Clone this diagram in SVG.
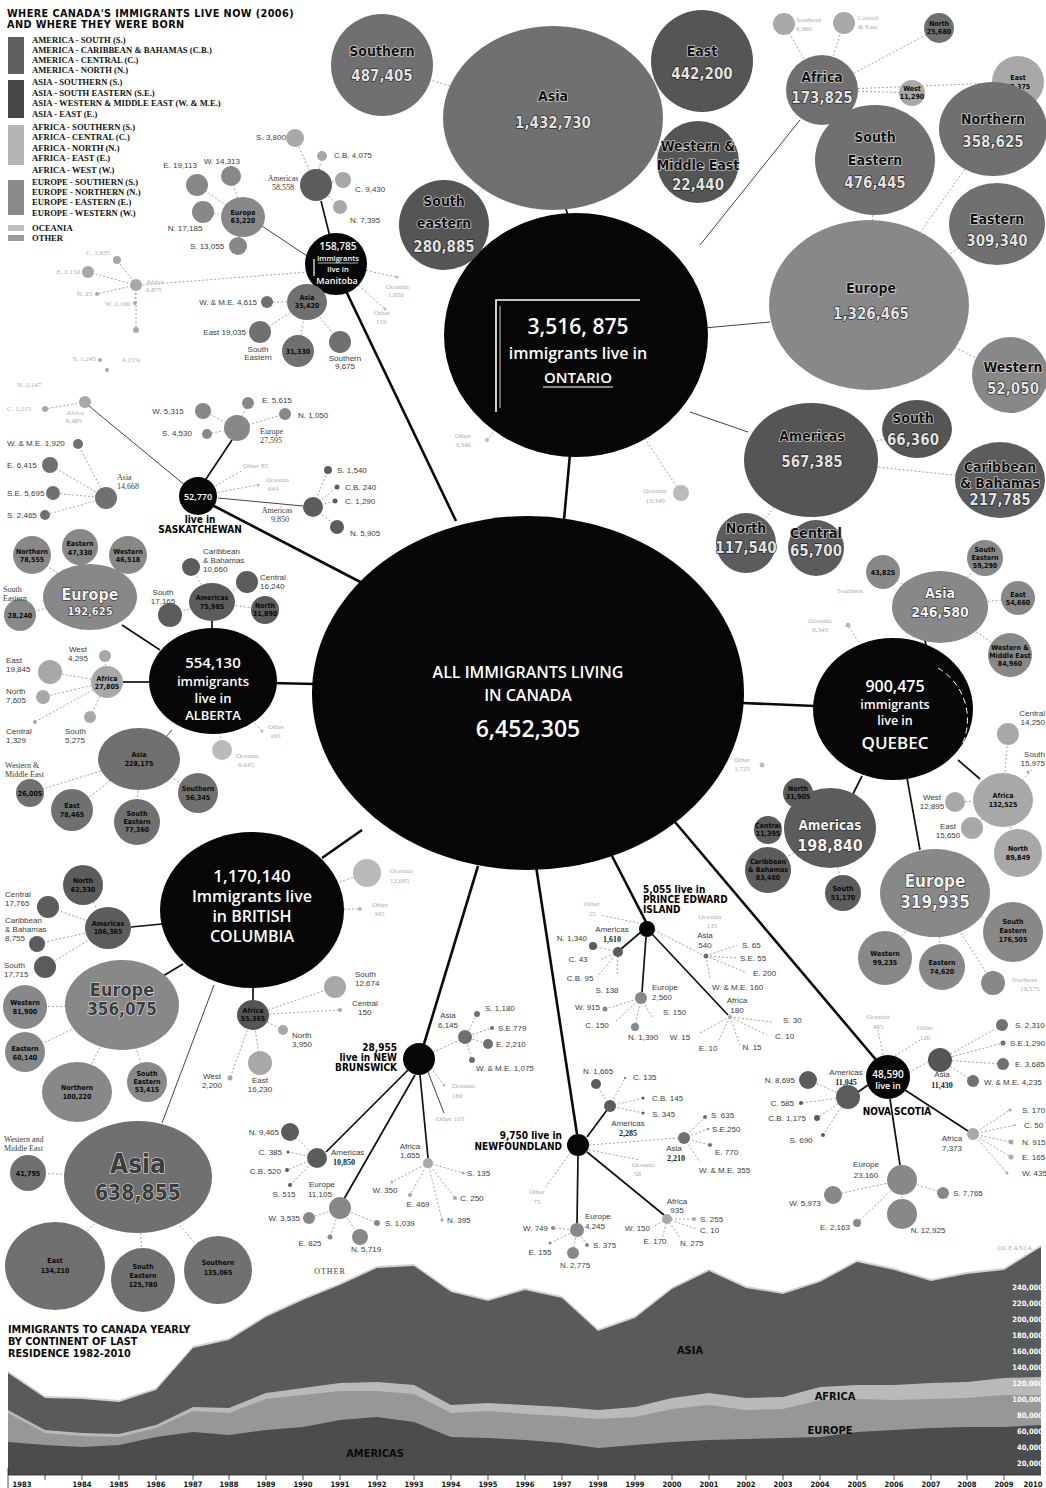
<svg xmlns="http://www.w3.org/2000/svg" width="1046" height="1488" viewBox="0 0 1046 1488">
<style>
text{font-family:"Liberation Sans",Arial,sans-serif}
.pv{fill:#060606}
.am{fill:#5c5c5c}
.as{fill:#707070}
.af{fill:#a8a8a8}
.eu{fill:#888888}
.oc{fill:#bababa}
.dk{fill:#555555}
.k{stroke:#0a0a0a;stroke-width:2.6;fill:none}
.k2{stroke:#111;stroke-width:1.7;fill:none}
.t{stroke:#444;stroke-width:1;fill:none}
.d{stroke:#8c8c8c;stroke-width:0.8;stroke-dasharray:2 2;fill:none}
.w{fill:#fff;font-family:"Open Sans","Liberation Sans",sans-serif;font-weight:600;text-anchor:middle}
.tt{font-family:"DejaVu Sans Condensed","Liberation Sans Narrow","Liberation Sans",sans-serif;font-stretch:condensed;font-weight:900;font-size:10.8px;fill:#0a0a0a}
.lg{font-family:"Liberation Serif",serif;font-weight:bold;font-size:8.6px;fill:#111}
.ol{font-family:"DejaVu Sans Condensed","Liberation Sans Narrow","Liberation Sans",sans-serif;font-stretch:condensed;font-weight:bold;font-size:14px;text-anchor:middle;fill:#111;stroke:#e6e6e6;stroke-width:1.2px;paint-order:stroke}
.on{font-family:"DejaVu Sans Condensed","Liberation Sans Narrow","Liberation Sans",sans-serif;font-stretch:condensed;font-weight:bold;font-size:15px;text-anchor:middle;fill:#e2e2e2;stroke:#111;stroke-width:1.2px;paint-order:stroke}
.bw{font-family:"DejaVu Sans Condensed","Liberation Sans Narrow","Liberation Sans",sans-serif;font-stretch:condensed;font-weight:bold;text-anchor:middle;fill:#f2f2f2;stroke:#1a1a1a;stroke-width:1.1px;paint-order:stroke}
.bg{font-family:"DejaVu Sans Condensed","Liberation Sans Narrow","Liberation Sans",sans-serif;font-stretch:condensed;font-weight:bold;text-anchor:middle;fill:#3c3c3c;stroke:#e8e8e8;stroke-width:1.1px;paint-order:stroke}
.n{font-family:"DejaVu Sans Condensed","Liberation Sans Narrow","Liberation Sans",sans-serif;font-stretch:condensed;font-weight:bold;font-size:7px;text-anchor:middle;fill:#0a0a0a}
.p{font-family:"DejaVu Sans Condensed","Liberation Sans Narrow","Liberation Sans",sans-serif;font-stretch:condensed;font-weight:bold;font-size:10px;fill:#000}
.s{font-family:"Liberation Serif",serif;font-size:8px;fill:#3c3c3c}
.sb{font-family:"Liberation Serif",serif;font-size:8px;font-weight:bold;fill:#222}
.f{font-family:"Liberation Serif",serif;font-size:7px;fill:#ababab}
.m{text-anchor:middle}
.e{text-anchor:end}
.ax{font-family:"DejaVu Sans Condensed","Liberation Sans Narrow","Liberation Sans",sans-serif;font-stretch:condensed;font-weight:bold;font-size:7.5px;fill:#fff;text-anchor:end}
.yr{font-family:"DejaVu Sans Condensed","Liberation Sans Narrow","Liberation Sans",sans-serif;font-stretch:condensed;font-weight:bold;font-size:7.5px;fill:#111;text-anchor:middle}
.cl{font-family:"DejaVu Sans Condensed","Liberation Sans Narrow","Liberation Sans",sans-serif;font-stretch:condensed;font-weight:bold;font-size:11px;fill:#0a0a0a;text-anchor:middle}
</style>
<rect x="0" y="0" width="1046" height="1488" fill="#fff"/>

<g id="chart">
<path fill="#d0d0d0" d="M8,1475 L8,1371 L45,1396 L82,1397 L119,1400 L156,1388 L193,1346 L229,1338 L266,1315 L303,1298 L340,1283 L377,1266 L414,1264 L451,1290 L488,1299 L525,1288 L562,1296 L598,1329 L635,1316 L672,1287 L709,1269 L746,1286 L783,1292 L820,1280 L857,1260 L894,1268 L931,1279 L967,1272 L1004,1268 L1041,1245 L1041,1475 Z"/>
<path fill="#5a5a5a" d="M8,1475 L8,1373 L45,1398 L82,1399 L119,1402 L156,1390 L193,1348 L229,1340 L266,1317 L303,1300 L340,1285 L377,1268 L414,1266 L451,1292 L488,1301 L525,1290 L562,1298 L598,1331 L635,1318 L672,1289 L709,1271 L746,1288 L783,1294 L820,1282 L857,1262 L894,1270 L931,1281 L967,1274 L1004,1270 L1041,1247 L1041,1475 Z"/>
<path fill="#b9b9b9" d="M8,1475 L8,1410 L45,1430 L82,1433 L119,1434 L156,1425 L193,1407 L229,1408 L266,1393 L303,1388 L340,1383 L377,1382 L414,1385 L451,1405 L488,1403 L525,1405 L562,1407 L598,1410 L635,1407 L672,1398 L709,1393 L746,1398 L783,1397 L820,1387 L857,1385 L894,1385 L931,1383 L967,1382 L1004,1378 L1041,1377 L1041,1475 Z"/>
<path fill="#979797" d="M8,1475 L8,1413 L45,1433 L82,1436 L119,1437 L156,1428 L193,1411 L229,1413 L266,1399 L303,1395 L340,1391 L377,1391 L414,1394 L451,1413 L488,1411 L525,1414 L562,1416 L598,1419 L635,1417 L672,1409 L709,1405 L746,1410 L783,1409 L820,1400 L857,1399 L894,1400 L931,1399 L967,1398 L1004,1395 L1041,1395 L1041,1475 Z"/>
<path fill="#4c4c4c" d="M8,1475 L8,1442 L45,1445 L82,1447 L119,1445 L156,1437 L193,1432 L229,1435 L266,1430 L303,1427 L340,1420 L377,1417 L414,1422 L451,1437 L488,1438 L525,1440 L562,1443 L598,1448 L635,1445 L672,1442 L709,1440 L746,1439 L783,1438 L820,1437 L857,1432 L894,1430 L931,1428 L967,1427 L1004,1427 L1041,1425 L1041,1475 Z"/>
<path d="M8,1475 H1041 M8,1468 V1488 M45,1475 v5 M82,1475 v5 M119,1475 v5 M156,1475 v5 M193,1475 v5 M229,1475 v5 M266,1475 v5 M303,1475 v5 M340,1475 v5 M377,1475 v5 M414,1475 v5 M451,1475 v5 M488,1475 v5 M525,1475 v5 M562,1475 v5 M598,1475 v5 M635,1475 v5 M672,1475 v5 M709,1475 v5 M746,1475 v5 M783,1475 v5 M820,1475 v5 M857,1475 v5 M894,1475 v5 M931,1475 v5 M967,1475 v5 M1004,1475 v5" stroke="#222" stroke-width="0.8" fill="none"/>
<text class="cl" x="690" y="1354">ASIA</text>
<text class="cl" x="835" y="1400">AFRICA</text>
<text class="cl" x="830" y="1434">EUROPE</text>
<text class="cl" x="375" y="1457">AMERICAS</text>
<text class="s m" x="330" y="1274" font-size="7.5" letter-spacing="1">OTHER</text>
<text class="f m" x="1015" y="1250" letter-spacing="0.5">OCEANIA</text>
<text class="tt" x="8" y="1333" font-size="11.5">IMMIGRANTS TO CANADA YEARLY</text>
<text class="tt" x="8" y="1345" font-size="11.5">BY CONTINENT OF LAST</text>
<text class="tt" x="8" y="1357" font-size="11.5">RESIDENCE 1982-2010</text>
<text class="ax" x="1043" y="1290">240,000</text>
<text class="ax" x="1043" y="1306">220,000</text>
<text class="ax" x="1043" y="1322">200,000</text>
<text class="ax" x="1043" y="1338">180,000</text>
<text class="ax" x="1043" y="1354">160,000</text>
<text class="ax" x="1043" y="1370">140,000</text>
<text class="ax" x="1043" y="1386">120,000</text>
<text class="ax" x="1043" y="1402">100,000</text>
<text class="ax" x="1043" y="1418">80,000</text>
<text class="ax" x="1043" y="1434">60,000</text>
<text class="ax" x="1043" y="1450">40,000</text>
<text class="ax" x="1043" y="1466">20,000</text>
<text class="yr" x="22" y="1487">1983</text>
<text class="yr" x="82" y="1487">1984</text>
<text class="yr" x="119" y="1487">1985</text>
<text class="yr" x="156" y="1487">1986</text>
<text class="yr" x="193" y="1487">1987</text>
<text class="yr" x="229" y="1487">1988</text>
<text class="yr" x="266" y="1487">1989</text>
<text class="yr" x="303" y="1487">1990</text>
<text class="yr" x="340" y="1487">1991</text>
<text class="yr" x="377" y="1487">1992</text>
<text class="yr" x="414" y="1487">1993</text>
<text class="yr" x="451" y="1487">1994</text>
<text class="yr" x="488" y="1487">1995</text>
<text class="yr" x="525" y="1487">1996</text>
<text class="yr" x="562" y="1487">1997</text>
<text class="yr" x="598" y="1487">1998</text>
<text class="yr" x="635" y="1487">1999</text>
<text class="yr" x="672" y="1487">2000</text>
<text class="yr" x="709" y="1487">2001</text>
<text class="yr" x="746" y="1487">2002</text>
<text class="yr" x="783" y="1487">2003</text>
<text class="yr" x="820" y="1487">2004</text>
<text class="yr" x="857" y="1487">2005</text>
<text class="yr" x="894" y="1487">2006</text>
<text class="yr" x="931" y="1487">2007</text>
<text class="yr" x="967" y="1487">2008</text>
<text class="yr" x="1004" y="1487">2009</text>
<text class="yr" x="1033" y="1487">2010</text>
</g>

<g id="legend">
<text class="tt" x="7" y="17" letter-spacing="0.4">WHERE CANADA'S IMMIGRANTS LIVE NOW (2006)</text>
<text class="tt" x="7" y="28" letter-spacing="0.4">AND WHERE THEY WERE BORN</text>
<rect x="8" y="37" width="16" height="37" fill="#606060"/>
<rect x="8" y="80" width="16" height="38" fill="#474747"/>
<rect x="8" y="125" width="16" height="40" fill="#b4b4b4"/>
<rect x="8" y="180" width="16" height="35" fill="#8a8a8a"/>
<rect x="8" y="225" width="16" height="6" fill="#bdbdbd"/>
<rect x="8" y="235" width="16" height="6" fill="#9a9a9a"/>
<text class="lg" x="32" y="43">AMERICA - SOUTH (S.)</text>
<text class="lg" x="32" y="53">AMERICA - CARIBBEAN &amp; BAHAMAS (C.B.)</text>
<text class="lg" x="32" y="63">AMERICA - CENTRAL (C.)</text>
<text class="lg" x="32" y="73">AMERICA - NORTH (N.)</text>
<text class="lg" x="32" y="85">ASIA - SOUTHERN (S.)</text>
<text class="lg" x="32" y="96">ASIA - SOUTH EASTERN (S.E.)</text>
<text class="lg" x="32" y="106">ASIA - WESTERN &amp; MIDDLE EAST (W. &amp; M.E.)</text>
<text class="lg" x="32" y="117">ASIA - EAST (E.)</text>
<text class="lg" x="32" y="130">AFRICA - SOUTHERN (S.)</text>
<text class="lg" x="32" y="140">AFRICA - CENTRAL (C.)</text>
<text class="lg" x="32" y="151">AFRICA - NORTH (N.)</text>
<text class="lg" x="32" y="161">AFRICA - EAST (E.)</text>
<text class="lg" x="32" y="173">AFRICA - WEST (W.)</text>
<text class="lg" x="32" y="185">EUROPE - SOUTHERN (S.)</text>
<text class="lg" x="32" y="195">EUROPE - NORTHERN (N.)</text>
<text class="lg" x="32" y="205">EUROPE - EASTERN (E.)</text>
<text class="lg" x="32" y="216">EUROPE - WESTERN (W.)</text>
<text class="lg" x="32" y="231">OCEANIA</text>
<text class="lg" x="32" y="241">OTHER</text>
</g>

<g id="connectors">
<line class="k" x1="570" y1="454" x2="564" y2="520"/>
<line class="k" x1="346" y1="291" x2="456" y2="521"/>
<line class="k" x1="214" y1="506" x2="368" y2="586"/>
<line class="k" x1="270" y1="683" x2="316" y2="684"/>
<line class="k" x1="322" y1="858" x2="362" y2="830"/>
<line class="k" x1="424" y1="1044" x2="478" y2="866"/>
<line class="k" x1="577" y1="1134" x2="536" y2="866"/>
<line class="k" x1="612" y1="856" x2="646" y2="922"/>
<line class="k" x1="675" y1="822" x2="877" y2="1061"/>
<line class="k" x1="742" y1="703" x2="815" y2="706"/>
<line class="k2" x1="565" y1="205" x2="568" y2="216"/>
<line class="t" x1="700" y1="245" x2="800" y2="120"/>
<line class="t" x1="704" y1="328" x2="770" y2="322"/>
<line class="t" x1="690" y1="412" x2="748" y2="432"/>
<line class="k2" x1="330" y1="237" x2="321" y2="201"/>
<line class="t" x1="310" y1="258" x2="262" y2="226"/>
<line class="d" x1="308" y1="272" x2="142" y2="285"/>
<line class="k2" x1="206" y1="479" x2="232" y2="440"/>
<line class="t" x1="186" y1="486" x2="89" y2="406"/>
<line class="t" x1="218" y1="498" x2="303" y2="506"/>
<line class="k2" x1="160" y1="650" x2="122" y2="625"/>
<line class="k2" x1="212" y1="630" x2="212" y2="620"/>
<line class="k2" x1="150" y1="682" x2="123" y2="682"/>
<line class="t" x1="172" y1="730" x2="165" y2="738"/>
<line class="k2" x1="162" y1="924" x2="131" y2="927"/>
<line class="k2" x1="183" y1="964" x2="163" y2="976"/>
<line class="t" x1="214" y1="985" x2="162" y2="1123"/>
<line class="k2" x1="253" y1="987" x2="253" y2="1000"/>
<line class="k2" x1="410" y1="1068" x2="326" y2="1152"/>
<line class="k2" x1="415" y1="1075" x2="344" y2="1199"/>
<line class="k2" x1="420" y1="1075" x2="428" y2="1158"/>
<line class="d" x1="433" y1="1052" x2="460" y2="1040"/>
<line class="d" x1="431" y1="1068" x2="444" y2="1085"/>
<line class="t" x1="428" y1="1072" x2="444" y2="1113"/>
<line class="k2" x1="587" y1="1137" x2="607" y2="1110"/>
<line class="d" x1="589" y1="1145" x2="678" y2="1138"/>
<line class="k2" x1="578" y1="1156" x2="577" y2="1223"/>
<line class="k2" x1="587" y1="1152" x2="664" y2="1215"/>
<line class="d" x1="570" y1="1153" x2="545" y2="1188"/>
<line class="d" x1="589" y1="1150" x2="640" y2="1160"/>
<line class="k2" x1="641" y1="932" x2="621" y2="949"/>
<line class="k2" x1="646" y1="937" x2="642" y2="992"/>
<line class="k2" x1="652" y1="934" x2="728" y2="1015"/>
<line class="d" x1="654" y1="930" x2="703" y2="955"/>
<line class="d" x1="643" y1="924" x2="600" y2="915"/>
<line class="k2" x1="868" y1="1085" x2="858" y2="1092"/>
<line class="d" x1="909" y1="1072" x2="928" y2="1062"/>
<line class="k2" x1="890" y1="1099" x2="900" y2="1165"/>
<line class="k2" x1="905" y1="1090" x2="968" y2="1131"/>
<line class="d" x1="883" y1="1055" x2="878" y2="1030"/>
<line class="d" x1="895" y1="1056" x2="920" y2="1040"/>
<line class="k2" x1="924" y1="636" x2="926" y2="645"/>
<line class="k2" x1="958" y1="760" x2="980" y2="779"/>
<line class="k2" x1="862" y1="776" x2="850" y2="800"/>
<line class="k2" x1="907" y1="778" x2="920" y2="850"/>
<line class="d" x1="849" y1="627" x2="862" y2="648"/>
<g class="d">
<path d="M553,118 L382,65 M553,118 L702,61 M553,118 L698,162 M553,118 L446,225 M822,90 L784,24 M822,90 L844,23 M822,90 L939,28 M822,90 L912,93 M822,90 L1018,82 M869,305 L875,160 M869,305 L993,129 M869,305 L997,224 M869,305 L1010,375 M811,460 L919,429 M811,460 L1000,480 M811,460 L746,543 M811,460 L816,548 M576,335 L681,493 M576,335 L487,440"/>
<path d="M316,185 L295,138 M316,185 L322,156 M316,185 L343,180 M316,185 L340,207 M243,217 L231,176 M243,217 L197,185 M243,217 L203,212 M243,217 L238,246 M136,285 L88,272 M136,285 L117,260 M136,285 L97,294 M136,285 L135,303 M136,285 L136,330 M307,302 L267,302 M307,302 L260,332 M307,302 L298,351 M307,302 L340,342 M335,264 L397,277 M335,264 L385,309"/>
<path d="M237,428 L248,403 M237,428 L285,414 M237,428 L207,434 M237,428 L203,411 M106,498 L78,444 M106,498 L50,465 M106,498 L53,493 M106,498 L45,515 M85,402 L45,409 M313,507 L328,470 M313,507 L337,487 M313,507 L335,501 M313,507 L337,527 M198,496 L258,485 M198,496 L243,470"/>
<path d="M90,597 L32,555 M90,597 L80,547 M90,597 L128,555 M90,597 L20,615 M212,602 L191,567 M212,602 L247,582 M212,602 L265,610 M212,602 L170,615 M107,682 L105,656 M107,682 L50,672 M107,682 L43,697 M107,682 L35,722 M107,682 L90,717 M139,759 L30,793 M139,759 L72,810 M139,759 L137,822 M139,759 L198,793 M213,681 L262,731 M213,681 L222,750"/>
<path d="M108,928 L83,885 M108,928 L48,907 M108,928 L37,944 M108,928 L45,967 M122,1005 L25,1007 M122,1005 L25,1052 M122,1005 L77,1092 M122,1005 L147,1082 M138,1177 L28,1173 M138,1177 L55,1266 M138,1177 L143,1280 M138,1177 L218,1270 M253,1015 L335,987 M253,1015 L340,1010 M253,1015 L283,1030 M253,1015 L260,1063 M253,1015 L230,1078 M252,910 L367,873 M252,910 L360,909"/>
<path d="M465,1037 L477,1014 M465,1037 L492,1028 M465,1037 L488,1044 M465,1037 L472,1060 M428,1163 L463,1173 M428,1163 L392,1182 M428,1163 L410,1195 M428,1163 L455,1198 M428,1163 L442,1220 M317,1158 L290,1132 M317,1158 L288,1152 M317,1158 L287,1170 M317,1158 L290,1185 M340,1208 L309,1218 M340,1208 L377,1223 M340,1208 L330,1237 M340,1208 L360,1237"/>
<path d="M610,1106 L596,1084 M610,1106 L625,1078 M610,1106 L643,1098 M610,1106 L643,1113 M684,1138 L705,1117 M684,1138 L708,1129 M684,1138 L710,1145 M684,1138 L700,1162 M577,1230 L553,1228 M577,1230 L550,1243 M577,1230 L587,1245 M577,1230 L573,1253 M667,1219 L694,1219 M667,1219 L697,1229 M667,1219 L653,1227 M667,1219 L662,1240 M667,1219 L680,1238"/>
<path d="M618,952 L593,946 M618,952 L600,960 M618,952 L597,977 M618,952 L617,975 M641,998 L605,1009 M641,998 L615,1022 M641,998 L635,1027 M641,998 L652,1017 M706,956 L737,945 M706,956 L737,958 M706,956 L747,973 M706,956 L710,978 M730,1017 L772,1022 M730,1017 L767,1035 M730,1017 L740,1045 M730,1017 L718,1042 M730,1017 L700,1033"/>
<path d="M940,1060 L1002,1025 M940,1060 L1003,1043 M940,1060 L1003,1064 M940,1060 L973,1081 M848,1097 L808,1080 M848,1097 L801,1103 M848,1097 L817,1118 M848,1097 L823,1135 M973,1134 L1010,1110 M973,1134 L1015,1125 M973,1134 L1011,1142 M973,1134 L1011,1157 M973,1134 L1007,1173 M902,1180 L943,1193 M902,1180 L833,1195 M902,1180 L857,1223 M902,1180 L902,1214"/>
<path d="M940,607 L883,572 M940,607 L985,558 M940,607 L1018,598 M940,607 L1010,655 M1003,800 L1008,734 M1003,800 L1032,770 M1003,800 L955,802 M1003,800 L972,828 M1003,800 L1018,853 M830,828 L798,793 M830,828 L768,830 M830,828 L768,870 M830,828 L843,893 M935,893 L1013,932 M935,893 L885,958 M935,893 L942,967 M935,893 L993,983"/>
</g>
</g>

<g id="n-canada">
<ellipse class="pv" cx="528" cy="693" rx="216" ry="177"/>
<text class="w" x="528" y="678" font-size="16">ALL IMMIGRANTS LIVING</text>
<text class="w" x="528" y="701" font-size="16">IN CANADA</text>
<text class="w" x="528" y="737" font-size="23">6,452,305</text>
</g>

<g id="n-ontario">
<ellipse class="pv" cx="576" cy="335" rx="132" ry="122"/>
<path d="M496,412 V300 H640" stroke="#fff" stroke-width="1.6" fill="none"/>
<line x1="500" y1="306" x2="500" y2="408" stroke="#fff" stroke-width="0.8"/>
<text class="w" x="578" y="334" font-size="21">3,516, 875</text>
<text class="w" x="578" y="359" font-size="16">immigrants live in</text>
<text class="w" x="578" y="383" font-size="15" font-weight="400">ONTARIO</text>
<line x1="543" y1="387" x2="613" y2="387" stroke="#fff" stroke-width="1.2"/>
</g>
<g id="on-southern"><circle class="as" cx="382" cy="65" r="51"/><text class="ol" x="382" y="56">Southern</text><text class="on" x="382" y="81">487,405</text></g>
<g id="on-asia"><ellipse class="as" cx="553" cy="118" rx="110" ry="92"/><text class="ol" x="553" y="101" font-size="16">Asia</text><text class="on" x="553" y="128" font-size="17">1,432,730</text></g>
<g id="on-east"><circle class="dk" cx="702" cy="61" r="51"/><text class="ol" x="702" y="56">East</text><text class="on" x="702" y="79">442,200</text></g>
<g id="on-wme"><circle class="dk" cx="698" cy="162" r="41"/><text class="ol" x="698" y="151" font-size="12.5">Western &amp;</text><text class="ol" x="698" y="170" font-size="12.5">Middle East</text><text class="on" x="698" y="190" font-size="13">22,440</text></g>
<g id="on-se"><circle class="dk" cx="444" cy="225" r="45"/><text class="ol" x="444" y="206">South</text><text class="ol" x="444" y="228">eastern</text><text class="on" x="444" y="252" font-size="14">280,885</text></g>
<g id="on-africa"><ellipse class="as" cx="822" cy="90" rx="36" ry="35"/><text class="ol" x="822" y="82" font-size="12.5">Africa</text><text class="on" x="822" y="103" font-size="13">173,825</text></g>
<g id="on-af-s"><circle class="af" cx="784" cy="24" r="11"/><text class="f" x="796" y="22">Southern</text><text class="f" x="796" y="31">6,960</text></g>
<g id="on-af-c"><circle class="af" cx="844" cy="23" r="11"/><text class="f" x="858" y="20">Central</text><text class="f" x="858" y="29">&amp; East</text></g>
<g id="on-af-n"><circle class="as" cx="939" cy="28" r="15"/><text class="n" x="939" y="26" font-size="6">North</text><text class="n" x="939" y="34" font-size="6">25,680</text></g>
<g id="on-af-e"><circle class="af" cx="1018" cy="82" r="26"/><text class="n" x="1018" y="80">East</text><text class="n" x="1018" y="89">79,375</text></g>
<g id="on-af-w"><circle class="af" cx="912" cy="93" r="13"/><text class="n" x="912" y="91" font-size="6">West</text><text class="n" x="912" y="99" font-size="6">11,290</text></g>
<g id="on-as-se"><ellipse class="as" cx="875" cy="160" rx="60" ry="55"/><text class="ol" x="875" y="142" font-size="15">South</text><text class="ol" x="875" y="165" font-size="15">Eastern</text><text class="on" x="875" y="188">476,445</text></g>
<g id="on-eu-n"><ellipse class="as" cx="993" cy="129" rx="54" ry="47"/><text class="ol" x="993" y="124" font-size="15">Northern</text><text class="on" x="993" y="147">358,625</text></g>
<g id="on-eu-e"><ellipse class="as" cx="997" cy="224" rx="48" ry="41"/><text class="ol" x="997" y="224" font-size="15">Eastern</text><text class="on" x="997" y="246">309,340</text></g>
<g id="on-europe"><ellipse class="eu" cx="869" cy="305" rx="100" ry="85"/><text class="ol" x="871" y="293" font-size="16">Europe</text><text class="on" x="871" y="319" font-size="16">1,326,465</text></g>
<g id="on-eu-w"><circle class="eu" cx="1010" cy="375" r="38"/><text class="ol" x="1013" y="372">Western</text><text class="on" x="1013" y="394">52,050</text></g>
<g id="on-am-s"><ellipse class="dk" cx="917" cy="429" rx="35" ry="29"/><text class="ol" x="913" y="423" font-size="13">South</text><text class="on" x="913" y="445" font-size="13">66,360</text></g>
<g id="on-am-cb"><ellipse class="am" cx="1000" cy="480" rx="45" ry="38"/><text class="ol" x="1000" y="472" font-size="11">Caribbean</text><text class="ol" x="1000" y="488" font-size="11">&amp; Bahamas</text><text class="on" x="1000" y="505" font-size="12">217,785</text></g>
<g id="on-americas"><ellipse class="dk" cx="811" cy="460" rx="67" ry="57"/><text class="ol" x="812" y="441" font-size="15">Americas</text><text class="on" x="812" y="467" font-size="16">567,385</text></g>
<g id="on-am-n"><circle class="am" cx="746" cy="543" r="30"/><text class="ol" x="746" y="533" font-size="13">North</text><text class="on" x="746" y="553" font-size="13">117,540</text></g>
<g id="on-am-c"><circle class="am" cx="816" cy="548" r="28"/><text class="ol" x="816" y="538" font-size="12">Central</text><text class="on" x="816" y="556" font-size="12">65,700</text></g>
<g id="on-oc"><circle class="oc" cx="681" cy="493" r="8"/><text class="f m" x="655" y="493">Oceania</text><text class="f m" x="655" y="503">13,340</text></g>
<g id="on-ot"><circle class="oc" cx="487" cy="440" r="2"/><text class="f m" x="463" y="438">Other</text><text class="f m" x="463" y="447">3,340</text></g>

<g id="n-manitoba">
<circle class="pv" cx="336" cy="264" r="31"/>
<text class="w" x="338" y="250" font-size="10" font-weight="700">158,785</text>
<text class="w" x="338" y="261" font-size="7.5">immigrants</text>
<line x1="318" y1="263" x2="358" y2="263" stroke="#fff" stroke-width="0.7"/>
<line x1="314" y1="259" x2="314" y2="276" stroke="#fff" stroke-width="1.2"/>
<text class="w" x="338" y="272" font-size="7.5" font-weight="400">live in</text>
<text class="w" x="337" y="284" font-size="9">Manitoba</text>
</g>
<g id="mb-americas"><circle class="am" cx="316" cy="185" r="16"/><text class="s m" x="283" y="181" font-size="7">Americas</text><text class="s m" x="283" y="190" font-size="7">58,558</text></g>
<g id="mb-am-kids" class="s" font-size="7">
<circle class="af" cx="295" cy="138" r="9"/><text x="271" y="140" class="m">S. 3,800</text>
<circle class="af" cx="322" cy="156" r="5"/><text x="334" y="158">C.B. 4,075</text>
<circle class="af" cx="343" cy="180" r="8"/><text x="355" y="192">C. 9,430</text>
<circle class="af" cx="340" cy="207" r="7"/><text x="350" y="223">N. 7,395</text>
</g>
<g id="mb-europe"><ellipse class="eu" cx="243" cy="217" rx="22" ry="20"/><text class="n" x="243" y="215">Europe</text><text class="n" x="243" y="223">63,220</text></g>
<g id="mb-eu-kids" class="s" font-size="7">
<circle class="eu" cx="231" cy="176" r="10"/><text x="222" y="164" class="m">W. 14,313</text>
<circle class="eu" cx="197" cy="185" r="11"/><text x="180" y="168" class="m">E. 19,113</text>
<circle class="eu" cx="203" cy="212" r="11"/><text x="185" y="231" class="m">N. 17,185</text>
<circle class="eu" cx="238" cy="246" r="9"/><text x="207" y="249" class="m">S. 13,055</text>
</g>
<g id="mb-africa"><circle class="af" cx="136" cy="285" r="6"/><text class="f" x="146" y="284">Africa</text><text class="f" x="146" y="292">6,875</text>
<circle class="af" cx="88" cy="272" r="6"/><text class="f e" x="80" y="274">E. 2,150</text>
<circle class="af" cx="117" cy="260" r="4"/><text class="f e" x="110" y="255">C. 1,835</text>
<circle class="af" cx="97" cy="294" r="2"/><text class="f e" x="92" y="296">N. 25</text>
<circle class="af" cx="135" cy="303" r="2"/><text class="f e" x="130" y="306">W. 2,160</text>
<circle class="af" cx="136" cy="330" r="3"/>
<circle class="af" cx="100" cy="360" r="2"/><text class="f e" x="96" y="361">S. 1,245</text>
<circle class="af" cx="107" cy="370" r="2"/><text class="f" x="122" y="362">4.15%</text>
</g>
<g id="mb-asia"><ellipse class="as" cx="307" cy="302" rx="20" ry="18"/><text class="n" x="307" y="300">Asia</text><text class="n" x="307" y="308">35,420</text></g>
<g id="mb-as-kids" class="s" font-size="7">
<circle class="as" cx="267" cy="302" r="6"/><text class="e" x="257" y="305">W. &amp; M.E. 4,615</text>
<circle class="as" cx="260" cy="332" r="11"/><text class="e" x="246" y="335">East 19,035</text>
<circle class="as" cx="298" cy="351" r="16"/><text class="n" x="298" y="354">31,330</text><text class="m" x="258" y="352">South</text><text class="m" x="258" y="360">Eastern</text>
<circle class="as" cx="340" cy="342" r="11"/><text class="m" x="345" y="361">Southern</text><text class="m" x="345" y="369">9,675</text>
</g>
<g id="mb-oc"><circle class="oc" cx="397" cy="277" r="1.5"/><text class="f" x="386" y="289">Oceania</text><text class="f" x="388" y="297">1,050</text><circle class="oc" cx="385" cy="309" r="1.5"/><text class="f" x="374" y="315">Other</text><text class="f" x="376" y="324">119</text></g>

<g id="n-sask">
<circle class="pv" cx="198" cy="496" r="19"/>
<text class="w" x="198" y="500" font-size="9" font-weight="400">52,770</text>
<text class="p" x="200" y="523" text-anchor="middle" font-size="9">live in</text>
<text class="p" x="200" y="533" text-anchor="middle" font-size="9">SASKATCHEWAN</text>
</g>
<g id="sk-europe"><circle class="eu" cx="237" cy="428" r="13"/><text class="s" x="260" y="434" font-size="7">Europe</text><text class="s" x="260" y="443" font-size="7">27,595</text>
<g class="s" font-size="7"><circle class="eu" cx="248" cy="403" r="6"/><text x="262" y="403">E. 5,615</text>
<circle class="eu" cx="285" cy="414" r="6"/><text x="298" y="418">N. 1,050</text>
<circle class="eu" cx="207" cy="434" r="5"/><text x="177" y="436" class="m">S. 4,530</text>
<circle class="eu" cx="203" cy="411" r="8"/><text x="168" y="414" class="m">W. 5,315</text></g></g>
<g id="sk-asia"><circle class="as" cx="106" cy="498" r="11"/><text class="s" x="117" y="480" font-size="7">Asia</text><text class="s" x="117" y="489" font-size="7">14,668</text>
<g class="s" font-size="7"><circle class="as" cx="78" cy="444" r="5"/><text x="7" y="446">W. &amp; M.E. 1,920</text>
<circle class="as" cx="50" cy="465" r="8"/><text x="7" y="468">E. 6,415</text>
<circle class="as" cx="53" cy="493" r="7"/><text x="7" y="496">S.E. 5,695</text>
<circle class="as" cx="45" cy="515" r="5"/><text x="7" y="518">S. 2,465</text></g></g>
<g id="sk-africa"><circle class="af" cx="85" cy="402" r="6"/><text class="f" x="66" y="415">Africa</text><text class="f" x="66" y="423">6,485</text>
<circle class="af" cx="45" cy="409" r="3"/><text class="f" x="7" y="411">C. 1,215</text><text class="f" x="17" y="387">N. 2,147</text></g>
<g id="sk-americas"><circle class="am" cx="313" cy="507" r="10"/><text class="s m" x="277" y="513" font-size="7">Americas</text><text class="s m" x="280" y="522" font-size="7">9,850</text>
<g class="s" font-size="7"><circle class="am" cx="328" cy="470" r="4"/><text x="337" y="473">S. 1,540</text>
<circle class="am" cx="337" cy="487" r="2.5"/><text x="345" y="490">C.B. 240</text>
<circle class="am" cx="335" cy="501" r="2.5"/><text x="345" y="504">C. 1,290</text>
<circle class="am" cx="337" cy="527" r="7"/><text x="350" y="536">N. 5,905</text></g></g>
<g id="sk-oc"><circle class="oc" cx="258" cy="485" r="1.5"/><text class="f" x="266" y="482">Oceania</text><text class="f" x="268" y="491">643</text><text class="f" x="243" y="468">Other 85</text></g>

<g id="n-alberta">
<ellipse class="pv" cx="213" cy="681" rx="64" ry="53"/>
<text class="w" x="213" y="668" font-size="15">554,130</text>
<text class="w" x="213" y="686" font-size="13" font-weight="400">immigrants</text>
<text class="w" x="213" y="703" font-size="13" font-weight="400">live in</text>
<text class="w" x="213" y="720" font-size="13">ALBERTA</text>
</g>
<g id="ab-europe"><ellipse class="eu" cx="90" cy="597" rx="47" ry="33"/><text class="bw" x="90" y="600" font-size="16">Europe</text><text class="bw" x="90" y="615" font-size="11">192,625</text></g>
<g id="ab-eu-n"><circle class="eu" cx="32" cy="555" r="19"/><text class="n" x="32" y="554">Northern</text><text class="n" x="32" y="562">78,555</text></g>
<g id="ab-eu-e"><circle class="eu" cx="80" cy="547" r="18"/><text class="n" x="80" y="546">Eastern</text><text class="n" x="80" y="555">47,330</text></g>
<g id="ab-eu-w"><circle class="eu" cx="128" cy="555" r="19"/><text class="n" x="128" y="554">Western</text><text class="n" x="128" y="562">46,518</text></g>
<g id="ab-eu-s"><circle class="eu" cx="20" cy="615" r="16"/><text class="n" x="20" y="618">28,240</text><text class="s" x="3" y="592" font-size="7">South</text><text class="s" x="3" y="601" font-size="7">Eastern</text></g>
<g id="ab-americas"><ellipse class="am" cx="212" cy="602" rx="23" ry="19"/><text class="n" x="212" y="600" font-size="6.5">Americas</text><text class="n" x="212" y="609">75,985</text></g>
<g id="ab-am-kids" class="s" font-size="7">
<circle class="am" cx="191" cy="567" r="9"/><text x="203" y="554">Caribbean</text><text x="203" y="563">&amp; Bahamas</text><text x="203" y="572">10,660</text>
<circle class="am" cx="247" cy="582" r="11"/><text x="260" y="580">Central</text><text x="260" y="589">16,240</text>
<circle class="am" cx="265" cy="610" r="14"/><text class="n" x="265" y="608">North</text><text class="n" x="265" y="616">31,890</text>
<circle class="am" cx="170" cy="615" r="12"/><text x="163" y="595" class="m">South</text><text x="163" y="604" class="m">17,165</text>
</g>
<g id="ab-africa"><circle class="af" cx="107" cy="682" r="16"/><text class="n" x="107" y="681">Africa</text><text class="n" x="107" y="689">27,805</text></g>
<g id="ab-af-kids" class="s" font-size="7">
<circle class="af" cx="105" cy="656" r="6"/><text x="78" y="652" class="m">West</text><text x="78" y="661" class="m">4,295</text>
<circle class="af" cx="50" cy="672" r="12"/><text x="6" y="663">East</text><text x="6" y="672">19,845</text>
<circle class="af" cx="43" cy="697" r="7"/><text x="6" y="694">North</text><text x="6" y="703">7,605</text>
<circle class="af" cx="35" cy="722" r="2"/><text x="6" y="734">Central</text><text x="6" y="743">1,329</text>
<circle class="af" cx="90" cy="717" r="6"/><text x="65" y="734">South</text><text x="65" y="743">5,275</text>
</g>
<g id="ab-asia"><ellipse class="as" cx="139" cy="759" rx="41" ry="31"/><text class="n" x="139" y="757" font-size="8">Asia</text><text class="n" x="139" y="766" font-size="8">228,175</text></g>
<g id="ab-as-kids">
<circle class="as" cx="30" cy="793" r="14"/><text class="n" x="30" y="796">26,005</text><text class="s" x="5" y="768" font-size="7">Western &amp;</text><text class="s" x="5" y="777" font-size="7">Middle East</text>
<circle class="as" cx="72" cy="810" r="21"/><text class="n" x="72" y="808">East</text><text class="n" x="72" y="817">78,465</text>
<circle class="as" cx="137" cy="822" r="23"/><text class="n" x="137" y="816">South</text><text class="n" x="137" y="824">Eastern</text><text class="n" x="137" y="832">77,360</text>
<circle class="as" cx="198" cy="793" r="20"/><text class="n" x="198" y="791">Southern</text><text class="n" x="198" y="800">56,345</text>
</g>
<g id="ab-oc"><circle class="oc" cx="262" cy="731" r="1.5"/><text class="f" x="268" y="729">Other</text><text class="f" x="270" y="738">165</text><circle class="oc" cx="222" cy="750" r="10"/><text class="f" x="236" y="758">Oceania</text><text class="f" x="238" y="767">9,645</text></g>

<g id="n-bc">
<ellipse class="pv" cx="252" cy="910" rx="92" ry="78"/>
<text class="w" x="252" y="882" font-size="17">1,170,140</text>
<text class="w" x="252" y="902" font-size="16" font-weight="400">Immigrants live</text>
<text class="w" x="252" y="922" font-size="16">in BRITISH</text>
<text class="w" x="252" y="942" font-size="16">COLUMBIA</text>
</g>
<g id="bc-americas"><ellipse class="am" cx="108" cy="928" rx="23" ry="21"/><text class="n" x="108" y="926" font-size="6.5">Americas</text><text class="n" x="108" y="934">106,365</text></g>
<g id="bc-am-kids" class="s" font-size="7">
<circle class="am" cx="83" cy="885" r="20"/><text class="n" x="83" y="883">North</text><text class="n" x="83" y="892">62,330</text>
<circle class="am" cx="48" cy="907" r="11"/><text x="5" y="897">Central</text><text x="5" y="906">17,765</text>
<circle class="am" cx="37" cy="944" r="8"/><text x="5" y="923">Caribbean</text><text x="5" y="932">&amp; Bahamas</text><text x="5" y="941">8,755</text>
<circle class="am" cx="45" cy="967" r="11"/><text x="4" y="968">South</text><text x="4" y="977">17,715</text>
</g>
<g id="bc-europe"><ellipse class="eu" cx="122" cy="1005" rx="57" ry="45"/><text class="bg" x="122" y="996" font-size="18">Europe</text><text class="bg" x="122" y="1015" font-size="17">356,075</text></g>
<g id="bc-eu-kids">
<circle class="eu" cx="25" cy="1007" r="22"/><text class="n" x="25" y="1005">Western</text><text class="n" x="25" y="1014">81,900</text>
<circle class="eu" cx="25" cy="1052" r="20"/><text class="n" x="25" y="1051">Eastern</text><text class="n" x="25" y="1060">60,140</text>
<ellipse class="eu" cx="77" cy="1092" rx="35" ry="30"/><text class="n" x="77" y="1090">Northern</text><text class="n" x="77" y="1099">100,220</text>
<circle class="eu" cx="147" cy="1082" r="20"/><text class="n" x="147" y="1076">South</text><text class="n" x="147" y="1084">Eastern</text><text class="n" x="147" y="1092">53,415</text>
</g>
<g id="bc-asia"><ellipse class="as" cx="138" cy="1177" rx="74" ry="56"/><text class="bg" x="138" y="1173" font-size="26">Asia</text><text class="bg" x="138" y="1200" font-size="21">638,855</text></g>
<g id="bc-as-kids">
<circle class="as" cx="28" cy="1173" r="18"/><text class="n" x="28" y="1176">41,795</text><text class="s" x="4" y="1142" font-size="7">Western and</text><text class="s" x="4" y="1151" font-size="7">Middle East</text>
<ellipse class="as" cx="55" cy="1266" rx="50" ry="44"/><text class="n" x="55" y="1263" font-size="8">East</text><text class="n" x="55" y="1273" font-size="8">134,210</text>
<circle class="as" cx="143" cy="1280" r="32"/><text class="n" x="143" y="1269">South</text><text class="n" x="143" y="1278">Eastern</text><text class="n" x="143" y="1287">125,780</text>
<circle class="as" cx="218" cy="1270" r="34"/><text class="n" x="218" y="1265">Southern</text><text class="n" x="218" y="1275">135,065</text>
</g>
<g id="bc-africa"><ellipse class="dk" cx="253" cy="1015" rx="16" ry="15"/><text class="n" x="253" y="1013" font-size="6.5">Africa</text><text class="n" x="253" y="1021" font-size="6.5">55,365</text></g>
<g id="bc-af-kids" class="s" font-size="7">
<circle class="af" cx="335" cy="987" r="11"/><text x="355" y="977">South</text><text x="355" y="986">12,674</text>
<circle class="af" cx="340" cy="1010" r="2"/><text x="352" y="1006">Central</text><text x="358" y="1015">150</text>
<circle class="af" cx="283" cy="1030" r="5"/><text x="292" y="1038">North</text><text x="292" y="1047">3,950</text>
<circle class="af" cx="260" cy="1063" r="12"/><text x="260" y="1083" class="m">East</text><text x="260" y="1092" class="m">16,230</text>
<circle class="af" cx="230" cy="1078" r="2.5"/><text x="212" y="1079" class="m">West</text><text x="212" y="1088" class="m">2,200</text>
</g>
<g id="bc-oc"><circle class="oc" cx="367" cy="873" r="14"/><text class="f" x="390" y="873">Oceania</text><text class="f" x="390" y="883">12,095</text><circle class="oc" cx="360" cy="909" r="2"/><text class="f" x="372" y="907">Other</text><text class="f" x="374" y="916">345</text></g>

<g id="n-nb">
<circle class="pv" cx="419" cy="1059" r="16"/>
<text class="p" x="397" y="1051" text-anchor="end">28,955</text>
<text class="p" x="397" y="1061" text-anchor="end">live in NEW</text>
<text class="p" x="397" y="1071" text-anchor="end">BRUNSWICK</text>
</g>
<g id="nb-asia" class="s" font-size="7.5"><circle class="as" cx="465" cy="1037" r="7"/><text x="448" y="1018" class="m">Asia</text><text x="448" y="1028" class="m">6,145</text>
<circle class="as" cx="477" cy="1014" r="3"/><text x="485" y="1011">S. 1,180</text>
<circle class="as" cx="492" cy="1028" r="2"/><text x="498" y="1031">S.E.779</text>
<circle class="as" cx="488" cy="1044" r="5"/><text x="496" y="1047">E. 2,210</text>
<circle class="as" cx="472" cy="1060" r="3"/><text x="476" y="1071">W. &amp; M.E. 1,075</text></g>
<g id="nb-oc"><circle class="oc" cx="444" cy="1085" r="1.5"/><text class="f" x="452" y="1088">Oceania</text><text class="f" x="452" y="1098">160</text><text class="f" x="436" y="1121">Other 105</text></g>
<g id="nb-africa" class="s" font-size="7.5"><circle class="af" cx="428" cy="1163" r="5"/><text x="410" y="1149" class="m">Africa</text><text x="410" y="1158" class="m">1,655</text>
<circle class="af" cx="463" cy="1173" r="1.5"/><text x="467" y="1176">S. 135</text>
<circle class="af" cx="392" cy="1182" r="1.5"/><text x="385" y="1193" class="m">W. 350</text>
<circle class="af" cx="410" cy="1195" r="2"/><text x="418" y="1207" class="m">E. 469</text>
<circle class="af" cx="455" cy="1198" r="2"/><text x="460" y="1201">C. 250</text>
<circle class="af" cx="442" cy="1220" r="1.5"/><text x="447" y="1223">N. 395</text></g>
<g id="nb-americas" class="s" font-size="7.5"><circle class="am" cx="317" cy="1158" r="10"/><text x="331" y="1155">Americas</text><text class="sb" x="333" y="1165">10,850</text>
<circle class="am" cx="290" cy="1132" r="9"/><text x="279" y="1135" class="e">N. 9,465</text>
<circle class="am" cx="288" cy="1152" r="1.5"/><text x="282" y="1155" class="e">C. 385</text>
<circle class="am" cx="287" cy="1170" r="2"/><text x="281" y="1174" class="e">C.B. 520</text>
<circle class="am" cx="290" cy="1185" r="2"/><text x="284" y="1197" class="m">S. 515</text></g>
<g id="nb-europe" class="s" font-size="7.5"><circle class="eu" cx="340" cy="1208" r="11"/><text x="309" y="1187">Europe</text><text x="308" y="1197">11,105</text>
<circle class="eu" cx="309" cy="1218" r="6"/><text x="300" y="1221" class="e">W. 3,535</text>
<circle class="eu" cx="377" cy="1223" r="3"/><text x="385" y="1226">S. 1,039</text>
<circle class="eu" cx="330" cy="1237" r="2.5"/><text x="310" y="1246" class="m">E. 825</text>
<circle class="eu" cx="360" cy="1237" r="8"/><text x="366" y="1252" class="m">N. 5,719</text></g>

<g id="n-nf">
<circle class="pv" cx="578" cy="1145" r="11"/>
<text class="p" x="562" y="1139" text-anchor="end">9,750 live in</text>
<text class="p" x="562" y="1150" text-anchor="end">NEWFOUNDLAND</text>
</g>
<g id="nf-americas" class="s" font-size="7.5"><circle class="am" cx="610" cy="1106" r="6"/><text x="628" y="1126" class="m">Americas</text><text x="628" y="1136" class="m sb">2,285</text>
<circle class="am" cx="596" cy="1084" r="5"/><text x="583" y="1074">N. 1,665</text>
<circle class="am" cx="625" cy="1078" r="1"/><text x="633" y="1080">C. 135</text>
<circle class="am" cx="643" cy="1098" r="1.5"/><text x="652" y="1101">C.B. 145</text>
<circle class="am" cx="643" cy="1113" r="1.5"/><text x="652" y="1117">S. 345</text></g>
<g id="nf-asia" class="s" font-size="7.5"><circle class="as" cx="684" cy="1138" r="6"/><text x="674" y="1151" class="m">Asia</text><text x="676" y="1161" class="m sb">2,210</text>
<circle class="as" cx="705" cy="1117" r="2"/><text x="711" y="1118">S. 635</text>
<circle class="as" cx="708" cy="1129" r="1"/><text x="712" y="1132">S.E.250</text>
<circle class="as" cx="710" cy="1145" r="2"/><text x="715" y="1155">E. 770</text>
<text x="699" y="1173">W. &amp; M.E. 355</text></g>
<g id="nf-oc"><text class="f" x="632" y="1167">Oceania</text><text class="f" x="634" y="1176">58</text><text class="f m" x="537" y="1194">Other</text><text class="f m" x="537" y="1204">75</text></g>
<g id="nf-europe" class="s" font-size="7.5"><circle class="eu" cx="577" cy="1230" r="7"/><text x="585" y="1219">Europe</text><text x="585" y="1229">4,245</text>
<circle class="eu" cx="553" cy="1228" r="2"/><text x="548" y="1231" class="e">W. 749</text>
<circle class="eu" cx="550" cy="1243" r="1.5"/><text x="540" y="1255" class="m">E. 155</text>
<circle class="eu" cx="587" cy="1245" r="2"/><text x="593" y="1248">S. 375</text>
<circle class="eu" cx="573" cy="1253" r="6"/><text x="575" y="1268" class="m">N. 2,775</text></g>
<g id="nf-africa" class="s" font-size="7.5"><circle class="af" cx="667" cy="1219" r="5"/><text x="677" y="1204" class="m">Africa</text><text x="677" y="1213" class="m">935</text>
<circle class="af" cx="694" cy="1219" r="2"/><text x="700" y="1222">S. 255</text>
<text x="700" y="1233">C. 10</text>
<text x="650" y="1231" class="e">W. 150</text>
<text x="655" y="1244" class="m">E. 170</text>
<text x="680" y="1246">N. 275</text></g>

<g id="n-pei">
<circle class="pv" cx="647" cy="929" r="8"/>
<text class="p" x="643" y="893">5,055 live in</text>
<text class="p" x="643" y="903">PRINCE EDWARD</text>
<text class="p" x="643" y="913">ISLAND</text>
</g>
<g id="pei-other"><text class="f m" x="592" y="906">Other</text><text class="f m" x="592" y="916">25</text></g>
<g id="pei-americas" class="s" font-size="7.5"><circle class="am" cx="618" cy="952" r="5"/><text x="612" y="932" class="m">Americas</text><text x="612" y="942" class="m sb">1,610</text>
<circle class="am" cx="593" cy="946" r="4"/><text x="587" y="941" class="e">N. 1,340</text>
<text x="578" y="962" class="m">C. 43</text>
<text x="580" y="981" class="m">C.B. 95</text>
<text x="607" y="993" class="m">S. 138</text></g>
<g id="pei-europe" class="s" font-size="7.5"><circle class="eu" cx="641" cy="998" r="6"/><text x="652" y="990">Europe</text><text x="652" y="1000">2,560</text>
<circle class="eu" cx="605" cy="1009" r="2.5"/><text x="600" y="1010" class="e">W. 915</text>
<text x="597" y="1028" class="m">C. 150</text>
<circle class="eu" cx="635" cy="1027" r="4"/><text x="628" y="1040">N. 1,390</text>
<text x="663" y="1015">S. 150</text></g>
<g id="pei-asia" class="s" font-size="7.5"><circle class="as" cx="706" cy="956" r="2.5"/><text class="f m" x="710" y="919">Oceania</text><text class="f m" x="712" y="928">135</text><text x="705" y="938" class="m">Asia</text><text x="705" y="948" class="m">540</text>
<text x="742" y="948">S. 65</text>
<text x="740" y="961">S.E. 55</text>
<text x="753" y="976">E. 200</text>
<text x="712" y="990">W. &amp; M.E. 160</text></g>
<g id="pei-africa" class="s" font-size="7.5"><circle class="af" cx="730" cy="1017" r="2"/><text x="737" y="1003" class="m">Africa</text><text x="737" y="1013" class="m">180</text>
<text x="783" y="1023">S. 30</text>
<text x="775" y="1039">C. 10</text>
<text x="752" y="1050" class="m">N. 15</text>
<text x="708" y="1051" class="m">E. 10</text>
<text x="680" y="1040" class="m">W. 15</text></g>

<g id="n-ns">
<circle class="pv" cx="888" cy="1077" r="22"/>
<text class="w" x="888" y="1078" font-size="10" font-weight="400">48,590</text>
<text class="w" x="888" y="1089" font-size="9" font-weight="400">live in</text>
<text class="p" x="897" y="1115" text-anchor="middle">NOVA SCOTIA</text>
</g>
<g id="ns-oc"><text class="f m" x="878" y="1019">Oceania</text><text class="f m" x="878" y="1029">465</text><text class="f m" x="925" y="1030">Other</text><text class="f m" x="925" y="1040">120</text></g>
<g id="ns-asia" class="s" font-size="7.5"><circle class="dk" cx="940" cy="1060" r="12"/><text x="942" y="1077" class="m">Asia</text><text x="942" y="1088" class="m sb">11,430</text>
<circle class="as" cx="1002" cy="1025" r="6"/><text x="1015" y="1028">S. 2,310</text>
<circle class="as" cx="1003" cy="1043" r="2.5"/><text x="1010" y="1046">S.E.1,290</text>
<circle class="as" cx="1003" cy="1064" r="6"/><text x="1015" y="1067">E. 3,685</text>
<circle class="as" cx="973" cy="1081" r="6"/><text x="984" y="1085">W. &amp; M.E. 4,235</text></g>
<g id="ns-americas" class="s" font-size="7.5"><circle class="am" cx="848" cy="1097" r="12"/><text x="846" y="1075" class="m">Americas</text><text x="846" y="1085" class="m sb">11,045</text>
<circle class="am" cx="808" cy="1080" r="9"/><text x="795" y="1083" class="e">N. 8,695</text>
<circle class="am" cx="801" cy="1103" r="2"/><text x="794" y="1106" class="e">C. 585</text>
<circle class="am" cx="817" cy="1118" r="3"/><text x="806" y="1121" class="e">C.B. 1,175</text>
<circle class="am" cx="823" cy="1135" r="2"/><text x="801" y="1143" class="m">S. 690</text></g>
<g id="ns-africa" class="s" font-size="7.5"><circle class="af" cx="973" cy="1134" r="6"/><text x="952" y="1141" class="m">Africa</text><text x="952" y="1151" class="m">7,373</text>
<circle class="af" cx="1010" cy="1110" r="1.5"/><text x="1022" y="1113">S. 170</text>
<circle class="af" cx="1015" cy="1125" r="1"/><text x="1024" y="1128">C. 50</text>
<circle class="af" cx="1011" cy="1142" r="2.5"/><text x="1022" y="1145">N. 915</text>
<circle class="af" cx="1011" cy="1157" r="2.5"/><text x="1022" y="1160">E. 165</text>
<circle class="af" cx="1007" cy="1173" r="1.5"/><text x="1022" y="1176">W. 435</text></g>
<g id="ns-europe" class="s" font-size="7.5"><circle class="eu" cx="902" cy="1180" r="15"/><text x="866" y="1167" class="m">Europe</text><text x="866" y="1178" class="m">23,160</text>
<circle class="eu" cx="943" cy="1193" r="6"/><text x="953" y="1196">S. 7,765</text>
<circle class="eu" cx="833" cy="1195" r="9"/><text x="805" y="1206" class="m">W. 5,973</text>
<circle class="eu" cx="857" cy="1223" r="4"/><text x="835" y="1230" class="m">E. 2,163</text>
<circle class="eu" cx="902" cy="1214" r="15"/><text x="928" y="1233" class="m">N. 12,925</text></g>

<g id="n-quebec">
<ellipse class="pv" cx="893" cy="709" rx="80" ry="71"/>
<path d="M938,668 A60,60 0 0 1 958,752" stroke="#fff" stroke-width="1" stroke-dasharray="6 4" fill="none"/>
<text class="w" x="895" y="692" font-size="16">900,475</text>
<text class="w" x="895" y="709" font-size="12.5" font-weight="400">immigrants</text>
<text class="w" x="895" y="725" font-size="12.5" font-weight="400">live in</text>
<text class="w" x="895" y="749" font-size="17">QUEBEC</text>
</g>
<g id="qc-asia"><ellipse class="eu" cx="940" cy="607" rx="48" ry="36"/><text class="bw" x="940" y="598" font-size="14">Asia</text><text class="bw" x="940" y="617" font-size="14">246,580</text></g>
<g id="qc-as-kids">
<circle class="eu" cx="883" cy="572" r="17"/><text class="n" x="883" y="575">43,825</text><text class="f m" x="850" y="593">Southern</text>
<circle class="eu" cx="985" cy="558" r="18"/><text class="n" x="985" y="552" font-size="6.5">South</text><text class="n" x="985" y="560" font-size="6.5">Eastern</text><text class="n" x="985" y="568" font-size="6.5">59,290</text>
<circle class="eu" cx="1018" cy="598" r="17"/><text class="n" x="1018" y="597">East</text><text class="n" x="1018" y="605">54,660</text>
<circle class="eu" cx="1010" cy="655" r="22"/><text class="n" x="1010" y="650" font-size="6.5">Western &amp;</text><text class="n" x="1010" y="658" font-size="6.5">Middle East</text><text class="n" x="1010" y="666" font-size="6.5">84,960</text>
</g>
<g id="qc-oc"><circle class="oc" cx="848" cy="625" r="2.5"/><text class="f m" x="820" y="623">Oceania</text><text class="f m" x="820" y="632">8,345</text><circle class="oc" cx="762" cy="765" r="2.5"/><text class="f m" x="742" y="762">Other</text><text class="f m" x="742" y="771">1,725</text></g>
<g id="qc-africa"><ellipse class="af" cx="1003" cy="800" rx="30" ry="27"/><text class="n" x="1003" y="798" font-size="7.5">Africa</text><text class="n" x="1003" y="807" font-size="7.5">132,525</text></g>
<g id="qc-af-kids" class="s" font-size="7">
<circle class="af" cx="1008" cy="734" r="11"/><text x="1045" y="716" class="e">Central</text><text x="1045" y="725" class="e">14,250</text>
<circle class="af" cx="1028" cy="772" r="1.5"/><text x="1045" y="757" class="e">South</text><text x="1045" y="766" class="e">15,975</text>
<circle class="af" cx="955" cy="802" r="10"/><text x="932" y="800" class="m">West</text><text x="932" y="809" class="m">12,895</text>
<circle class="af" cx="972" cy="828" r="11"/><text x="948" y="829" class="m">East</text><text x="948" y="838" class="m">15,650</text>
<circle class="af" cx="1018" cy="853" r="24"/><text class="n" x="1018" y="851">North</text><text class="n" x="1018" y="860">89,849</text>
</g>
<g id="qc-americas"><ellipse class="am" cx="830" cy="828" rx="46" ry="40"/><text class="bw" x="830" y="830" font-size="13.5">Americas</text><text class="bw" x="830" y="851" font-size="16">198,840</text></g>
<g id="qc-am-kids">
<circle class="am" cx="798" cy="793" r="15"/><text class="n" x="798" y="791" font-size="6.5">North</text><text class="n" x="798" y="799" font-size="6.5">31,905</text>
<circle class="am" cx="768" cy="830" r="14"/><text class="n" x="768" y="828" font-size="6.5">Central</text><text class="n" x="768" y="836" font-size="6.5">11,395</text>
<circle class="am" cx="768" cy="870" r="23"/><text class="n" x="768" y="864" font-size="6.5">Caribbean</text><text class="n" x="768" y="872" font-size="6.5">&amp; Bahamas</text><text class="n" x="768" y="880" font-size="6.5">83,480</text>
<circle class="am" cx="843" cy="893" r="18"/><text class="n" x="843" y="891">South</text><text class="n" x="843" y="900">51,170</text>
</g>
<g id="qc-europe"><ellipse class="eu" cx="935" cy="893" rx="55" ry="44"/><text class="bw" x="935" y="887" font-size="17">Europe</text><text class="bw" x="935" y="908" font-size="17">319,935</text></g>
<g id="qc-eu-kids">
<circle class="eu" cx="1013" cy="932" r="30"/><text class="n" x="1013" y="924">South</text><text class="n" x="1013" y="933">Eastern</text><text class="n" x="1013" y="942">176,505</text>
<circle class="eu" cx="885" cy="958" r="27"/><text class="n" x="885" y="956">Western</text><text class="n" x="885" y="965">99,235</text>
<circle class="eu" cx="942" cy="967" r="23"/><text class="n" x="942" y="965">Eastern</text><text class="n" x="942" y="974">74,620</text>
<circle class="eu" cx="993" cy="983" r="12"/><text class="f" x="1012" y="982">Northern</text><text class="f" x="1020" y="991">19,575</text>
</g>
</svg>
